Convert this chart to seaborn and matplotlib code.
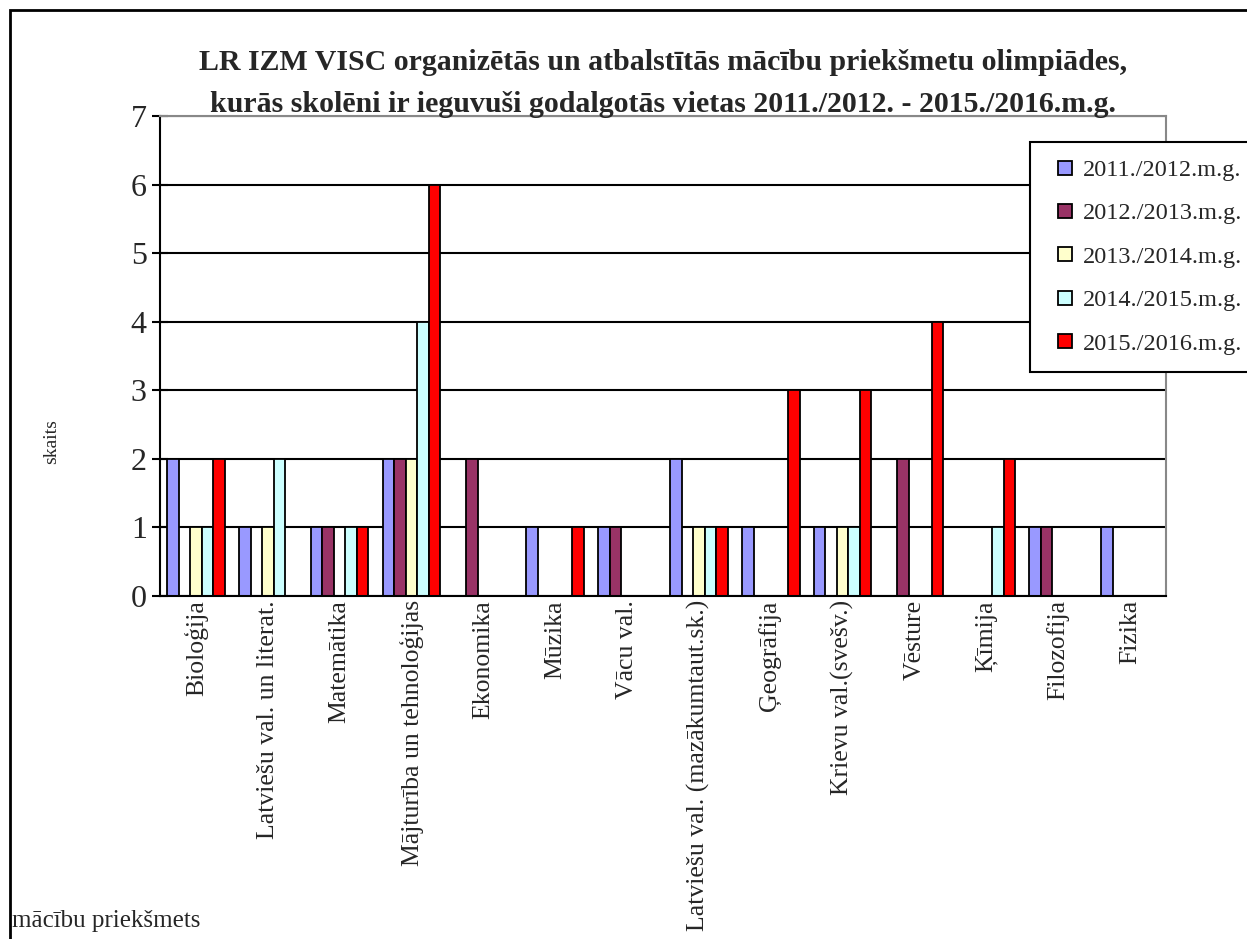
import pandas as pd
import matplotlib
matplotlib.use("Agg")
import matplotlib.pyplot as plt
import seaborn as sns
from matplotlib.patches import Rectangle
from matplotlib.lines import Line2D

# --- dati ---
prieksmeti = ['Bioloģija', 'Latviešu val. un literat.', 'Matemātika', 'Mājturība un tehnoloģijas',
              'Ekonomika', 'Mūzika', 'Vācu val.', 'Latviešu val. (mazākumtaut.sk.)',
              'Ģeogrāfija', 'Krievu val.(svešv.)', 'Vēsture', 'Ķīmija', 'Filozofija', 'Fizika']
gadi = ['2011./2012.m.g.', '2012./2013.m.g.', '2013./2014.m.g.', '2014./2015.m.g.', '2015./2016.m.g.']
v_2011 = [2, 1, 1, 2, 0, 1, 1, 2, 1, 1, 0, 0, 1, 1]
v_2012 = [0, 0, 1, 2, 2, 0, 1, 0, 0, 0, 2, 0, 1, 0]
v_2013 = [1, 1, 0, 2, 0, 0, 0, 1, 0, 1, 0, 0, 0, 0]
v_2014 = [1, 2, 1, 4, 0, 0, 0, 1, 0, 1, 0, 1, 0, 0]
v_2015 = [2, 0, 1, 6, 0, 1, 0, 1, 3, 3, 4, 2, 0, 0]
krasas = ['#9999FF', '#993366', '#FFFFCC', '#CCFFFF', '#FF0000']

rows = []
for gads, vals in zip(gadi, [v_2011, v_2012, v_2013, v_2014, v_2015]):
    for p, v in zip(prieksmeti, vals):
        rows.append({'prieksmets': p, 'gads': gads, 'skaits': v})
df = pd.DataFrame(rows)

sns.set_theme(style="white")
plt.rcParams['font.family'] = ['Liberation Serif', 'DejaVu Serif']

fig = plt.figure(figsize=(12.47, 9.39), dpi=100)
ax = fig.add_axes([160 / 1247, 1 - 596 / 939, (1166 - 160) / 1247, (596 - 116) / 939])

sns.barplot(data=df, x='prieksmets', y='skaits', hue='gads', order=prieksmeti, hue_order=gadi,
            palette=krasas, edgecolor='black', linewidth=1.3, width=0.8, gap=0, ax=ax,
            saturation=1, errorbar=None, legend=False)

ax.set_ylim(0, 7)
ax.set_yticks(range(0, 8))
ax.yaxis.grid(True, color='black', linewidth=1.5)
ax.set_axisbelow(True)
ax.set_xlim(-0.5, len(prieksmeti) - 0.5)

# tick marks between categories
ax.set_xticks(range(len(prieksmeti)))
ax.set_xticklabels(prieksmeti, rotation=90, fontsize=18.5)
ax.set_xticks([i - 0.5 for i in range(len(prieksmeti) + 1)], minor=True)
ax.tick_params(axis='x', which='major', length=0, pad=3)
ax.tick_params(axis='x', which='minor', length=7, width=1.5, color='black', direction='out')
ax.tick_params(axis='y', which='major', length=11, width=1.5, color='black', direction='inout',
               labelsize=23, left=True, pad=4)
ax.set_xlabel('')
ax.set_ylabel('')

for s in ['left', 'bottom']:
    ax.spines[s].set_color('black')
    ax.spines[s].set_linewidth(1.5)
for s in ['top', 'right']:
    ax.spines[s].set_color('#888888')
    ax.spines[s].set_linewidth(1.5)

ax.set_title('LR IZM VISC organizētās un atbalstītās mācību priekšmetu olimpiādes,\n'
             'kurās skolēni ir ieguvuši godalgotās vietas 2011./2012. - 2015./2016.m.g.',
             fontsize=21.5, fontweight='bold', pad=3, linespacing=1.7)

handles = [Line2D([], [], linestyle='none', marker='s', markersize=10.5, markerfacecolor=c,
                  markeredgecolor='black', markeredgewidth=1.3) for c in krasas]
leg = ax.legend(handles, gadi, loc='upper left', bbox_to_anchor=(1030 / 1247, 1 - 142 / 939),
                bbox_transform=fig.transFigure, fontsize=17.5, frameon=True, fancybox=False,
                edgecolor='black', handlelength=1.44, labelspacing=0.88,
                borderpad=0.7, handletextpad=0.05, borderaxespad=0)
leg.get_frame().set_linewidth(1.5)
leg.get_frame().set_alpha(1)

fig.text(52 / 1247, 1 - 442 / 939, 'skaits', rotation=90, fontsize=14, ha='center', va='center')
fig.text(12 / 1247, 1 - 921 / 939, 'mācību priekšmets', fontsize=18, ha='left', va='center')

# outer chart border
fig.patches.append(Rectangle((10 / 1247, -0.01), 1.02, 1 - 10 / 939 + 0.01, transform=fig.transFigure,
                             fill=False, edgecolor='black', linewidth=2, zorder=10))

fig.savefig('out.png', dpi=100)
